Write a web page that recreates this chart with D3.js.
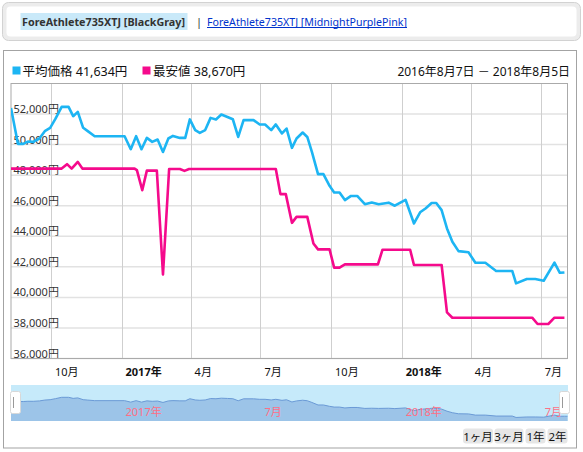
<!DOCTYPE html>
<html>
<head>
<meta charset="utf-8">
<script src="https://cdn.jsdelivr.net/npm/d3@7"></script>
<style>
body { margin: 0; background: #fff; }
svg { display: block; font-family: "Noto Sans", "Noto Sans CJK JP", sans-serif; }
</style>
</head>
<body>
<svg id="chart"></svg>
<script>
// 平均価格 (average price)
var avgDates = ["2016-08-10","2016-08-19","2016-08-26","2016-09-01","2016-09-08","2016-09-16","2016-09-23","2016-09-30",
  "2016-10-07","2016-10-15","2016-10-24","2016-10-30","2016-11-05","2016-11-12","2016-11-18","2016-11-27",
  "2017-01-05","2017-01-13","2017-01-20","2017-01-27","2017-02-03","2017-02-10","2017-02-17","2017-02-24",
  "2017-03-03","2017-03-09","2017-03-18","2017-03-25","2017-03-31","2017-04-07","2017-04-13","2017-04-20",
  "2017-04-27","2017-05-04","2017-05-11","2017-05-19","2017-05-26","2017-06-02","2017-06-09","2017-06-22",
  "2017-06-30","2017-07-07","2017-07-15","2017-07-21","2017-07-29","2017-08-04","2017-08-11","2017-08-17",
  "2017-08-25","2017-08-31","2017-09-06","2017-09-14","2017-09-21","2017-09-29","2017-10-05","2017-10-12",
  "2017-10-19","2017-10-27","2017-11-04","2017-11-14","2017-11-23","2017-12-02","2017-12-15","2017-12-23",
  "2018-01-06","2018-01-17","2018-01-25","2018-02-01","2018-02-09","2018-02-15","2018-02-22","2018-03-01",
  "2018-03-08","2018-03-16","2018-03-29","2018-04-07","2018-04-20","2018-05-04","2018-05-25","2018-05-30",
  "2018-06-13","2018-06-24","2018-07-05","2018-07-19","2018-07-26","2018-08-01"];
var avgValues = [52400,50050,50050,50200,50180,50400,50880,51100,
  51700,52470,52470,51860,52140,51100,50880,50550,
  50550,49700,50550,49700,50440,50180,50330,49520,
  50400,50570,50440,50440,51650,50950,50770,50950,
  51750,51640,51970,51810,51660,50500,51600,51600,
  51320,51320,50950,51320,50730,51050,49790,50400,
  50790,50500,49520,48070,48070,47300,46870,46870,
  46370,46640,46640,46100,46210,46100,46200,46000,
  46390,44840,45570,45820,46180,46180,45710,44510,
  43640,43030,42950,42270,42270,41730,41730,40920,
  41200,41200,41090,42270,41610,41634];

// 最安値 (lowest price)
var minDates = ["2016-08-10","2016-10-15","2016-10-22","2016-10-28","2016-11-05","2016-11-11","2017-01-18","2017-01-21",
  "2017-01-28","2017-02-03","2017-02-16","2017-02-24","2017-03-04","2017-03-18","2017-03-24","2017-03-30",
  "2017-07-21","2017-07-27","2017-08-03","2017-08-11","2017-08-17","2017-08-31","2017-09-08","2017-09-14",
  "2017-09-29","2017-10-05","2017-10-12","2017-10-19","2017-12-01","2017-12-07","2018-01-12","2018-01-17",
  "2018-02-22","2018-03-01","2018-03-08","2018-06-20","2018-06-27","2018-07-11","2018-07-19","2018-08-01"];
var minValues = [48430,48430,48720,48430,48870,48430,48430,48330,
  47020,48300,48300,41500,48400,48400,48280,48400,
  48400,46760,46760,44880,45270,45270,43530,43140,
  43140,41950,41950,42160,42160,43120,43120,42120,
  42120,39020,38670,38670,38260,38260,38670,38670];

var yTicks = [36000, 38000, 40000, 42000, 44000, 46000, 48000, 50000, 52000];
var monthTicks = ["2016-10-01","2017-01-01","2017-04-01","2017-07-01","2017-10-01","2018-01-01","2018-04-01","2018-07-01"];
var monthLabels = ["10月","2017年","4月","7月","10月","2018年","4月","7月"];
var navTicks = ["2017-01-01","2017-07-01","2018-01-01","2018-07-01"];
var navLabels = ["2017年","7月","2018年","7月"];
var rangeButtons = ["1ヶ月","3ヶ月","1年","2年"];
var legendNames = ["平均価格 41,634円", "最安値 38,670円"];
var periodText = "2016年8月7日 － 2018年8月5日";
var tabActive = "ForeAthlete735XTJ [BlackGray]";
var tabOther = "ForeAthlete735XTJ [MidnightPurplePink]";

var width = 583, height = 452;
var parse = d3.timeParse("%Y-%m-%d");
var blue = "#1db5f3", pink = "#f50a8c";

var svg = d3.select("#chart").attr("width", width).attr("height", height);

// header tabs
svg.append("rect").attr("x", 2.5).attr("y", 2.5).attr("width", 578).attr("height", 38)
  .attr("rx", 6).attr("fill", "#ececec").attr("stroke", "#d2d2d2");
svg.append("rect").attr("x", 6.5).attr("y", 6.5).attr("width", 570).attr("height", 30)
  .attr("rx", 4).attr("fill", "#fff");
svg.append("rect").attr("x", 20.5).attr("y", 13).attr("width", 167).attr("height", 17)
  .attr("fill", "#c9e9f9");
svg.append("text").attr("x", 22).attr("y", 25.5).text(tabActive)
  .attr("font-size", 11).attr("font-weight", "bold").attr("fill", "#333")
  .attr("textLength", 163).attr("lengthAdjust", "spacingAndGlyphs");
svg.append("text").attr("x", 196).attr("y", 25.5).text("|")
  .attr("font-size", 11).attr("fill", "#333");
svg.append("text").attr("x", 207).attr("y", 25.5).text(tabOther)
  .attr("font-size", 10.5).attr("fill", "#0033cc")
  .attr("textLength", 200).attr("lengthAdjust", "spacingAndGlyphs");
svg.append("line").attr("x1", 207).attr("x2", 407).attr("y1", 27.5).attr("y2", 27.5)
  .attr("stroke", "#0033cc").attr("stroke-width", 1);

// chart frame
svg.append("rect").attr("x", 3.5).attr("y", 50.5).attr("width", 573).attr("height", 397.5)
  .attr("fill", "#fff").attr("stroke", "#a3a3a3");

// legend
var legend = svg.append("g");
[[12.5, blue, 22.5], [142.5, pink, 153]].forEach(function(l, i) {
  legend.append("rect").attr("x", l[0]).attr("y", 66.5).attr("width", 8).attr("height", 8).attr("fill", l[1]);
  legend.append("text").attr("x", l[2]).attr("y", 75.5).text(legendNames[i])
    .attr("font-size", 12.5).attr("fill", "#111");
});
svg.append("text").attr("x", 570).attr("y", 75.5).attr("text-anchor", "end")
  .text(periodText).attr("font-size", 12).attr("fill", "#111");

// scales
var plotLeft = 11, plotRight = 567.5, plotTop = 83.5, plotBottom = 358.5;
var x = d3.scaleTime().domain([parse("2016-08-10"), parse("2018-08-05")]).range([plotLeft, plotRight]);
var y = d3.scaleLinear().domain([36000, 54000]).range([plotBottom, plotTop]);

// grid
var grid = svg.append("g");
grid.selectAll(".hg").data(yTicks).join("line")
  .attr("x1", plotLeft).attr("x2", plotRight)
  .attr("y1", d => y(d)).attr("y2", d => y(d))
  .attr("stroke", "#e2e2e2").attr("stroke-width", 1.5);
grid.selectAll(".vg").data(monthTicks).join("line")
  .attr("x1", d => Math.round(x(parse(d))) + 0.5).attr("x2", d => Math.round(x(parse(d))) + 0.5)
  .attr("y1", plotTop).attr("y2", plotBottom)
  .attr("stroke", "#cfcfcf").attr("stroke-width", 1);

// y labels inside plot
svg.append("g").selectAll("text").data(yTicks).join("text")
  .attr("x", 13.5).attr("y", d => y(d) - 1)
  .attr("font-size", 11).attr("fill", "#333")
  .text(d => d3.format(",")(d) + "円");

// plot border
svg.append("rect").attr("x", plotLeft).attr("y", plotTop)
  .attr("width", plotRight - plotLeft).attr("height", plotBottom - plotTop)
  .attr("fill", "none").attr("stroke", "#aaa");

// series
svg.append("clipPath").attr("id", "plotclip").append("rect")
  .attr("x", plotLeft).attr("y", plotTop)
  .attr("width", plotRight - plotLeft).attr("height", plotBottom - plotTop);
var line = d3.line().x(d => x(d[0])).y(d => y(d[1]));
var avgData = avgDates.map((d, i) => [parse(d), avgValues[i]]);
var minData = minDates.map((d, i) => [parse(d), minValues[i]]);
var series = svg.append("g").attr("clip-path", "url(#plotclip)");
series.append("path").datum(minData).attr("d", line)
  .attr("fill", "none").attr("stroke", pink).attr("stroke-width", 2.6).attr("stroke-linejoin", "round");
series.append("path").datum(avgData).attr("d", line)
  .attr("fill", "none").attr("stroke", blue).attr("stroke-width", 2.6).attr("stroke-linejoin", "round");

// x labels
svg.append("g").selectAll("text").data(monthTicks).join("text")
  .attr("x", d => x(parse(d)) + 4).attr("y", 376)
  .attr("font-size", 11).attr("fill", "#111")
  .attr("font-weight", (d, i) => monthLabels[i].indexOf("年") >= 0 ? "bold" : "normal")
  .text((d, i) => monthLabels[i]);

// navigator
var navTop = 385, navBottom = 421;
var navY = d3.scaleLinear().domain([40900, 52470]).range([417.5, 397.3]);
var nav = svg.append("g");
nav.append("rect").attr("x", plotLeft).attr("y", navTop).attr("width", 568 - plotLeft).attr("height", navBottom - navTop)
  .attr("fill", "#c6eafa");
var navArea = d3.area().x(d => x(d[0])).y0(navBottom).y1(d => navY(d[1]));
var navData = [[x.domain()[0], avgValues[0]]].concat(avgData).concat([[x.domain()[1], avgValues[avgValues.length - 1]]]);
nav.append("path").datum(navData).attr("d", navArea).attr("fill", "#9cc4e8");
nav.append("path").datum(navData).attr("d", d3.line().x(d => x(d[0])).y(d => navY(d[1])))
  .attr("fill", "none").attr("stroke", "#6a9ad6").attr("stroke-width", 1);
nav.selectAll("text").data(navTicks).join("text")
  .attr("x", d => x(parse(d)) + 4).attr("y", 416)
  .attr("font-size", 11).attr("fill", "#ff6f86")
  .text((d, i) => navLabels[i]);
[10, 559].forEach(function(hx) {
  nav.append("rect").attr("x", hx + 0.5).attr("y", 391.5).attr("width", 10).attr("height", 22)
    .attr("rx", 2).attr("fill", "#fff").attr("stroke", "#d8d8d8");
  nav.append("line").attr("x1", hx + 3.5).attr("x2", hx + 3.5).attr("y1", 397).attr("y2", 408)
    .attr("stroke", "#999");
});

// range buttons
var bx = [463, 494.5, 525.5, 547.5], bw = [30, 29, 20, 20];
var btn = svg.append("g").selectAll("g").data(rangeButtons).join("g");
btn.append("rect").attr("x", (d, i) => bx[i]).attr("y", 428.5).attr("width", (d, i) => bw[i]).attr("height", 15)
  .attr("rx", 3).attr("fill", "#e6e6e6");
btn.append("text").attr("x", (d, i) => bx[i] + bw[i] / 2).attr("y", 440.5).attr("text-anchor", "middle")
  .attr("font-size", 11.5).attr("fill", "#111").text(d => d);
</script>
</body>
</html>
